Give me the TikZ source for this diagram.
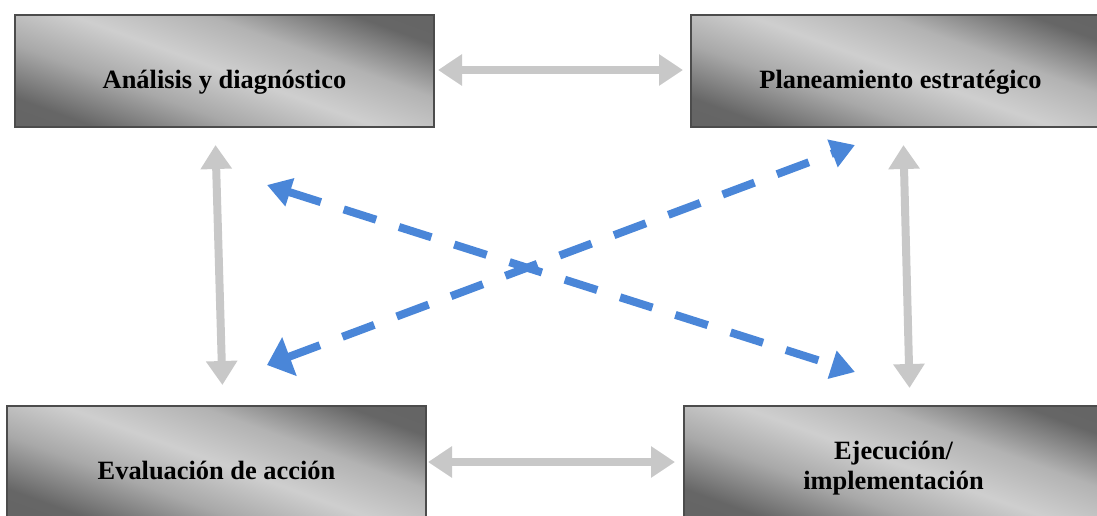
\documentclass[tikz,border=0pt]{standalone}
\usepackage{fontspec}
\setmainfont{Liberation Serif}
\usetikzlibrary{arrows.meta, positioning}
\definecolor{crossblue}{RGB}{74,134,216}
\definecolor{linkgray}{RGB}{200,200,200}
\pgfdeclarehorizontalshading{stageshade}{100bp}{color(0bp)=(black!62); color(25bp)=(black!60); color(38bp)=(black!34); color(50bp)=(black!19); color(62bp)=(black!30); color(75bp)=(black!60); color(100bp)=(black!62)}
\tikzset{
  stage/.style={draw=black!70, line width=1pt, shading=stageshade, shading angle=70, minimum width=209.5pt, minimum height=56pt, inner sep=0pt, outer sep=0pt, align=center, font=\fontsize{13.2}{15}\selectfont\bfseries, text height=20pt, text depth=3pt},
  link/.style={draw=linkgray, line width=4pt, {Triangle[width=15pt,length=12pt]}-{Triangle[width=15pt,length=12pt]}},
  cross/.style={draw=crossblue, line width=4pt, dash pattern=on 17pt off 12pt, {Triangle[width=14pt,length=12pt]}-{Triangle[width=14pt,length=12pt]}}
}

\begin{document}
\begin{tikzpicture}[x=0.5pt, y=-0.5pt]
  \useasboundingbox (0,0) rectangle (1097,515);
  % Nodes
  \node[stage] (ana) at (224.5,71) {An\'alisis y diagn\'ostico};
  \node[stage] (plan) at (900.5,71) {Planeamiento estrat\'egico};
  \node[stage] (eval) at (216.5,462) {Evaluaci\'on de acci\'on};
  \node[stage, text height=27pt, text depth=0pt] (ejec) at (893.5,462) {Ejecuci\'on/\\ implementaci\'on};
  \coordinate (x1) at (267,185);
  \coordinate (x2) at (855,372);
  \coordinate (x3) at (855,145);
  \coordinate (x4) at (267,365);

  % Arrows
  \draw[link, shorten <=2pt, shorten >=4pt] ([yshift=0.5pt]ana.east) -- ([yshift=0.5pt]plan.west);
  \draw[link, shorten <=1pt, shorten >=4.5pt] (eval.east) -- (ejec.west);
  \draw[link, shorten <=9pt, shorten >=10.5pt] ([xshift=-4.75pt]ana.south) -- ([xshift=3.25pt]eval.north);
  \draw[link, shorten <=9pt, shorten >=9pt] ([xshift=1.25pt]plan.south) -- ([xshift=8.25pt]ejec.north);
  \draw[cross] (x1) -- (x2);
  \draw[cross, {Triangle[width=20pt,length=12pt]}-{Triangle[width=14pt,length=12pt]}] (x4) -- (x3);
\end{tikzpicture}
\end{document}
